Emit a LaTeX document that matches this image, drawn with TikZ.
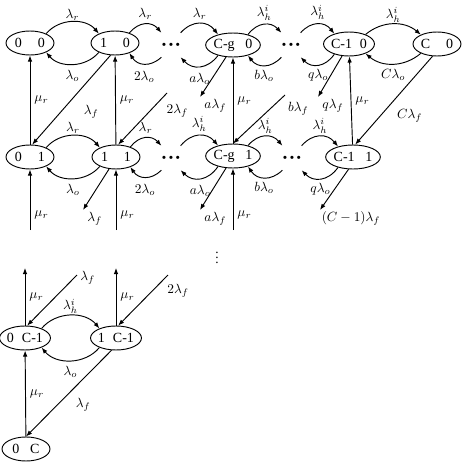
\documentclass[tikz,border=0pt]{standalone}
\usepackage{fontspec}
\setmainfont{Liberation Serif}
\usetikzlibrary{arrows.meta,positioning,shapes.geometric}

\newcommand{\gapdots}{{\tiny$\bullet$\hspace{1.5pt}$\bullet$\hspace{1.5pt}$\bullet$}}

\begin{document}
\begin{tikzpicture}[
  x=0.75pt, y=-0.75pt,
  cell/.style={draw, ellipse, line width=0.7pt, minimum width=36pt, minimum height=18pt, inner sep=0pt, font=\fontsize{10.5}{12}\selectfont},
  gap/.style={minimum width=12.5pt, minimum height=18pt, inner sep=0pt},
  arrow/.style={-{Latex[length=1.6mm,width=1.2mm]}, line width=0.7pt},
  loop/.style={arrow, bend left=50, looseness=1.2},
  lab/.style={inner sep=1pt}
]
\useasboundingbox (0,0) rectangle (465,464);
\node[cell] (n00) at (30,43) {0\hspace{12pt}0};
\node[cell] (n10) at (115,43) {1\hspace{12pt}0};
\node[gap] (d1) at (171,45) {\gapdots};
\node[cell] (ng0) at (233,45) {C-g\hspace{8pt}0};
\node[gap] (d2) at (291,45) {\gapdots};
\node[cell] (nq0) at (349,44) {C-1\hspace{6pt}0};
\node[cell] (nC0) at (437,44) {C\hspace{12pt}0};
\node[cell] (n01) at (30,157) {0\hspace{12pt}1};
\node[cell] (n11) at (116,157) {1\hspace{12pt}1};
\node[gap] (d3) at (171,158) {\gapdots};
\node[cell] (ng1) at (233,156) {C-g\hspace{8pt}1};
\node[gap] (d4) at (292,158) {\gapdots};
\node[cell] (nq1) at (353,157) {C-1\hspace{8pt}1};
\node (vd) at (217,254) {$\vdots$};
\node[cell] (m0) at (25,338) {0\hspace{6pt}C-1};
\node[cell] (m1) at (116,338) {1\hspace{6pt}C-1};
\node[cell] (m2) at (26,449) {0\hspace{8pt}C};
\coordinate (fa) at (167,93);
\coordinate (fb) at (200,97);
\coordinate (fc) at (285,95);
\coordinate (fd) at (318,97);
\coordinate (fe) at (83,210);
\coordinate (ff) at (200,210);
\coordinate (fg) at (320,210);
\coordinate (fh) at (30,230);
\coordinate (fi) at (116,230);
\coordinate (fj) at (233,230);
\coordinate (fk) at (25,268);
\coordinate (fl) at (116,268);
\coordinate (fm) at (77,275);
\coordinate (fn) at (168,275);
\draw[arrow] (n00.30) to[bend left=50] node[lab, above] {$\lambda_r$} (n10.150);
\draw[arrow] (n10.210) to[bend left=50] node[lab, below=3pt] {$\lambda_o$} (n00.330);
\draw[loop] (n10.35) to node[lab, above=2pt] {$\lambda_r$} (d1.north west);
\draw[loop] (d1.south west) to node[lab, below=4pt] {$2\lambda_o$} (n10.325);
\draw[loop] (d1.north east) to node[lab, above=2pt] {$\lambda_r$} (ng0.145);
\draw[loop] (ng0.215) to node[lab, below=4pt] {$a\lambda_o$} (d1.south east);
\draw[loop] (ng0.35) to node[lab, above=2pt] {$\lambda_h^i$} (d2.north west);
\draw[loop] (d2.south west) to node[lab, below=2pt] {$b\lambda_o$} (ng0.325);
\draw[loop] (d2.north east) to node[lab, above=2pt] {$\lambda_h^i$} (nq0.145);
\draw[loop] (nq0.215) to node[lab, below=2pt] {$q\lambda_o$} (d2.south east);
\draw[arrow] (nq0.30) to[bend left=40] node[lab, above] {$\lambda_h^i$} (nC0.150);
\draw[arrow] (nC0.210) to[bend left=40] node[lab, below=3pt] {$C\lambda_o$} (nq0.330);
\draw[arrow] (n01) -- node[lab, right=2pt] {$\mu_r$} (n00);
\draw[arrow] (n11) -- node[lab, right=2pt] {$\mu_r$} (n10);
\draw[arrow] (ng1) -- node[lab, right=2pt] {$\mu_r$} (ng0);
\draw[arrow] (nq1) -- node[lab, right=2pt] {$\mu_r$} (nq0);
\draw[arrow] (n10.250) -- node[lab, pos=0.5, below right=3pt and 8pt] {$\lambda_f$} (n01.80);
\draw[arrow] (fa) -- node[lab, pos=0.1, below right=3pt and 2pt] {$2\lambda_f$} (n11.80);
\draw[arrow] (ng0.240) -- (fb) node[lab, below right=0pt and 2pt] {$a\lambda_f$};
\draw[arrow] (fc) -- node[lab, pos=0.05, below right=2pt and 3pt] {$b\lambda_f$} (ng1.north);
\draw[arrow] (nq0.240) -- (fd) node[lab, below right=0pt and 2pt] {$q\lambda_f$};
\draw[arrow] (nC0.250) -- node[lab, pos=0.55, below right=2pt and 4pt] {$C\lambda_f$} (nq1.80);
\draw[arrow] (n01.30) to[bend left=50] node[lab, above] {$\lambda_r$} (n11.150);
\draw[arrow] (n11.210) to[bend left=50] node[lab, below=3pt] {$\lambda_o$} (n01.330);
\draw[loop] (n11.35) to node[lab, above=2pt] {$\lambda_r$} (d3.north west);
\draw[loop] (d3.south west) to node[lab, below=4pt] {$2\lambda_o$} (n11.325);
\draw[loop] (d3.north east) to node[lab, above=2pt] {$\lambda_h^i$} (ng1.145);
\draw[loop] (ng1.215) to node[lab, below=4pt] {$a\lambda_o$} (d3.south east);
\draw[loop] (ng1.35) to node[lab, above=1pt] {$\lambda_h^i$} (d4.north west);
\draw[loop] (d4.south west) to node[lab, below=2pt] {$b\lambda_o$} (ng1.325);
\draw[loop] (d4.north east) to node[lab, above=1pt] {$\lambda_h^i$} (nq1.145);
\draw[loop] (nq1.215) to node[lab, below=2pt] {$q\lambda_o$} (d4.south east);
\draw[arrow] (n11.240) -- (fe) node[lab, below right=0pt and 2pt] {$\lambda_f$};
\draw[arrow] (ng1.240) -- (ff) node[lab, below right=0pt and 2pt] {$a\lambda_f$};
\draw[arrow] (nq1.250) -- (fg) node[lab, below right=0pt and 0pt] {$(C-1)\lambda_f$};
\draw[arrow] (fh) -- node[lab, pos=0.25, right=2pt] {$\mu_r$} (n01);
\draw[arrow] (fi) -- node[lab, pos=0.25, right=2pt] {$\mu_r$} (n11);
\draw[arrow] (fj) -- node[lab, pos=0.25, right=2pt] {$\mu_r$} (ng1);
\draw[arrow] (m0) -- node[lab, right=2pt] {$\mu_r$} (fk);
\draw[arrow] (m1) -- node[lab, right=2pt] {$\mu_r$} (fl);
\draw[arrow] (fm) -- node[lab, pos=0.05, right=3pt] {$\lambda_f$} (m0.80);
\draw[arrow] (fn) -- node[lab, pos=0.1, below right=2pt and 2pt] {$2\lambda_f$} (m1.80);
\draw[arrow] (m0.30) to[bend left=50] node[lab, above] {$\lambda_h^i$} (m1.150);
\draw[arrow] (m1.210) to[bend left=50] node[lab, below=3pt] {$\lambda_o$} (m0.330);
\draw[arrow] (m1.250) -- node[lab, pos=0.5, below right=2pt and 4pt] {$\lambda_f$} (m2.north);
\draw[arrow] (m2) -- node[lab, right=2pt] {$\mu_r$} (m0);
\end{tikzpicture}
\end{document}
